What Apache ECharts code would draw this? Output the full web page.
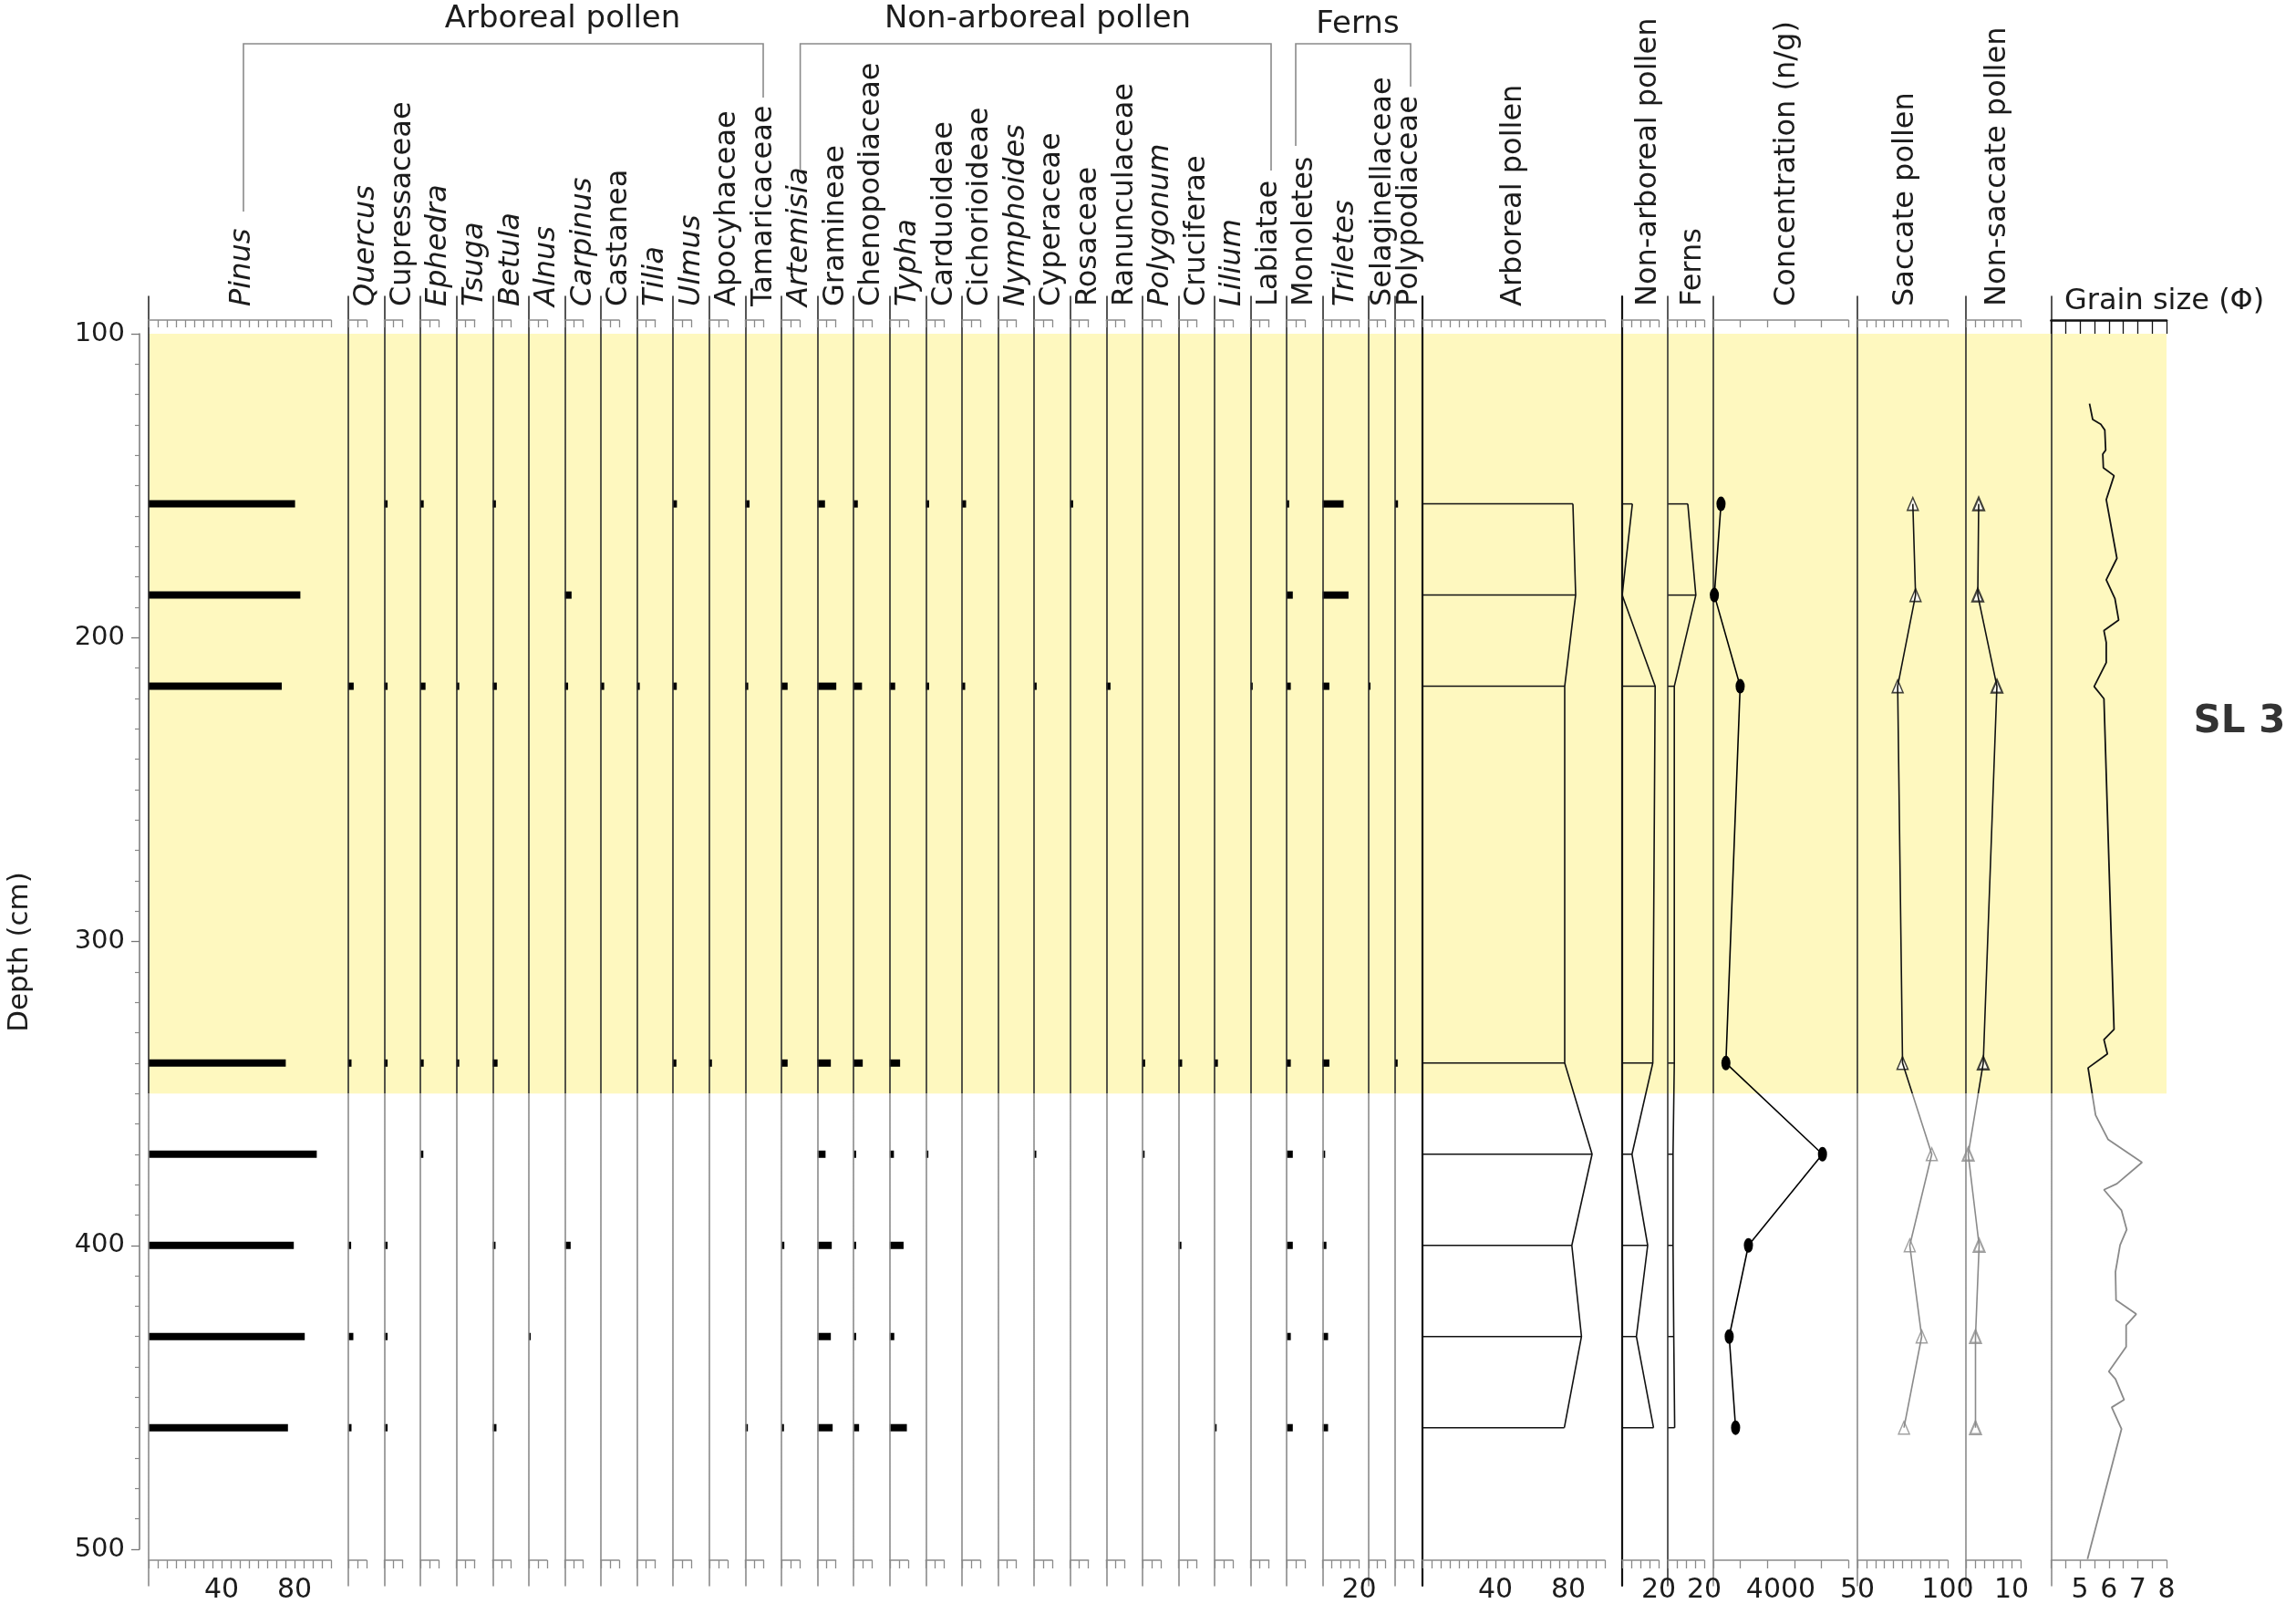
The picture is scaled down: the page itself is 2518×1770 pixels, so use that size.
<!DOCTYPE html>
<html>
<head>
<meta charset="utf-8">
<script src="https://cdn.jsdelivr.net/npm/echarts@6/dist/echarts.min.js"></script>
<style>
  html, body { margin: 0; padding: 0; background: #fff; }
  #main { width: 2518px; height: 1770px; }
</style>
</head>
<body>
<div id="main"></div>
<script>
// sample depths (cm)
const depths = [156, 186, 216, 340, 370, 400, 430, 460];

// pollen percentages, one value per sample depth
const pinus = [80.3, 83.2, 73.0, 75.2, 92.2, 79.6, 85.6, 76.4];
const quercus = [0, 0, 3.0, 1.8, 0, 1.6, 2.8, 1.8];
const cupressaceae = [1.8, 0, 1.8, 1.8, 0, 1.8, 1.8, 1.8];
const ephedra = [1.8, 0, 2.8, 1.8, 1.6, 0, 0, 0];
const tsuga = [0, 0, 1.5, 1.5, 0, 0, 0, 0];
const betula = [1.8, 0, 2.3, 2.7, 0, 1.6, 0, 2.1];
const alnus = [0, 0, 0, 0, 0, 0, 1.1, 0];
const carpinus = [0, 3.7, 1.8, 0, 0, 3.2, 0, 0];
const castanea = [0, 0, 1.8, 0, 0, 0, 0, 0];
const tilia = [0, 0, 1.5, 0, 0, 0, 0, 0];
const ulmus = [2.1, 0, 2.0, 1.8, 0, 0, 0, 0];
const apocyhaceae = [0, 0, 0, 1.5, 0, 0, 0, 0];
const tamaricaceae = [2.3, 0, 1.6, 0, 0, 0, 0, 1.4];
const artemisia = [0, 0, 3.4, 3.4, 0, 1.6, 0, 1.4];
const gramineae = [4.1, 0, 10.3, 7.3, 4.4, 7.8, 7.3, 8.3];
const chenopodiaceae = [2.3, 0, 4.6, 5.0, 1.4, 1.4, 1.4, 3.0];
const typha = [0, 0, 3.0, 5.7, 2.3, 7.6, 2.5, 9.4];
const carduoideae = [1.8, 0, 1.8, 0, 1.4, 0, 0, 0];
const cichorioideae = [2.3, 0, 1.8, 0, 0, 0, 0, 0];
const nymphoides = [0, 0, 0, 0, 0, 0, 0, 0];
const cyperaceae = [0, 0, 1.4, 0, 1.2, 0, 0, 0];
const rosaceae = [1.6, 0, 0, 0, 0, 0, 0, 0];
const ranunculaceae = [0, 0, 2.3, 0, 0, 0, 0, 0];
const polygonum = [0, 0, 0, 1.5, 1.2, 0, 0, 0];
const cruciferae = [0, 0, 0, 2.0, 0, 1.6, 0, 0];
const lilium = [0, 0, 0, 1.8, 0, 0, 0, 1.1];
const labiatae = [0, 0, 1.1, 0, 0, 0, 0, 0];
const monoletes = [1.4, 3.4, 2.3, 2.3, 3.4, 3.4, 2.3, 3.4];
const triletes = [11.5, 14.2, 3.7, 3.7, 1.4, 2.1, 3.0, 3.0];
const selaginellaceae = [0, 0, 0.9, 0, 0, 0, 0, 0];
const polypodiaceae = [1.6, 0, 0, 1.4, 0, 0, 0, 0];

// summary curves
const arborealPollen = [82.5, 84.0, 78.0, 78.0, 93.0, 81.9, 87.2, 77.8];
const nonArborealPollen = [5.6, 0, 18.1, 16.8, 5.4, 14.0, 7.8, 17.2];
const fernsSum = [11.0, 15.4, 3.6, 3.6, 2.9, 2.9, 3.3, 3.8];
const concentration = [455, 60, 1590, 745, 6470, 2080, 940, 1320];
const saccate = [80.7, 82.2, 72.3, 75.0, 91.2, 79.0, 85.6, 75.8];
const nonSaccate = [2.8, 2.6, 6.8, 3.8, 0.5, 2.9, 2.1, 2.1];

// grain size record
const grainDepth = [123.0, 128.2, 129.8, 131.7, 138.3, 139.6, 144.1, 146.7, 154.6, 173.9,
  181.0, 187.1, 194.2, 197.7, 201.6, 208.2, 216.1, 220.1, 328.9, 332.3,
  337.0, 341.6, 357.1, 365.1, 372.7, 379.7, 381.7, 388.5, 394.8, 399.9,
  408.7, 418.0, 422.6, 426.3, 433.4, 441.5, 444.0, 450.8, 453.3, 460.4, 503.2];
const grainSize = [5.33, 5.44, 5.72, 5.86, 5.89, 5.79, 5.81, 6.18, 5.91, 6.28,
  5.91, 6.21, 6.34, 5.83, 5.91, 5.91, 5.49, 5.83, 6.18, 5.83,
  5.95, 5.28, 5.54, 5.97, 7.15, 6.28, 5.83, 6.44, 6.62, 6.39,
  6.23, 6.25, 6.95, 6.6, 6.6, 6.0, 6.23, 6.53, 6.10, 6.44, 5.26];

// zone band (cm)
const zoneBands = [[100, 350]];
const depthTicks = { min: 100, max: 500, step: 100 };

// taxon columns: name, values, italic
const narrowTaxa = [
  ['Quercus', quercus, true], ['Cupressaceae', cupressaceae, false], ['Ephedra', ephedra, true],
  ['Tsuga', tsuga, true], ['Betula', betula, true], ['Alnus', alnus, true],
  ['Carpinus', carpinus, true], ['Castanea', castanea, false], ['Tilia', tilia, true],
  ['Ulmus', ulmus, true], ['Apocyhaceae', apocyhaceae, false], ['Tamaricaceae', tamaricaceae, false],
  ['Artemisia', artemisia, true], ['Gramineae', gramineae, false], ['Chenopodiaceae', chenopodiaceae, false],
  ['Typha', typha, true], ['Carduoideae', carduoideae, false], ['Cichorioideae', cichorioideae, false],
  ['Nymphoides', nymphoides, true], ['Cyperaceae', cyperaceae, false], ['Rosaceae', rosaceae, false],
  ['Ranunculaceae', ranunculaceae, false], ['Polygonum', polygonum, true], ['Cruciferae', cruciferae, false],
  ['Lilium', lilium, true], ['Labiatae', labiatae, false]
];

const FONT = '"DejaVu Sans", sans-serif';
const TXT = '#1c1c1c';
const TOP = 325, HEIGHT = 1414;
const Y_MIN = 100 - 41 / 3.3325, Y_MAX = 100 + 1373 / 3.3325;
const ZONE_END = zoneBands[0][1];

let grids = [], xAxes = [], yAxes = [], series = [], graphics = [];
let sepIdx = [];

function addPanel(o) {
  let gi = grids.length;
  grids.push({ left: o.left, top: TOP, width: o.width, height: HEIGHT });
  let topColor = o.topColor || '#8a8a8a';
  xAxes.push({
    gridIndex: gi, type: 'value', position: 'top', offset: -26, min: o.min, max: o.max,
    interval: o.step, z: 3,
    axisLine: { show: true, onZero: false, lineStyle: { color: topColor, width: o.topWidth || 1.5 } },
    axisTick: { show: true, inside: true, length: o.topTick || 8, lineStyle: { color: topColor, width: 1.3 } },
    axisLabel: { show: false }, splitLine: { show: false }
  });
  xAxes.push({
    gridIndex: gi, type: 'value', position: 'bottom', offset: -28, min: o.min, max: o.max,
    interval: o.step, z: 3,
    axisLine: { show: true, onZero: false, lineStyle: { color: '#8a8a8a', width: 1.5 } },
    axisTick: { show: true, inside: false, length: 9, lineStyle: { color: '#8a8a8a', width: 1.3 } },
    axisLabel: o.labels ? {
      show: true, customValues: o.labels, formatter: v => String(v),
      fontFamily: FONT, fontSize: 30, color: TXT, margin: 18
    } : { show: false },
    splitLine: { show: false }
  });
  if (!o.sepColor) sepIdx.push(yAxes.length);
  yAxes.push({
    gridIndex: gi, type: 'value', inverse: true, min: Y_MIN, max: Y_MAX, z: 3,
    axisLine: { show: true, onZero: false, lineStyle: { color: o.sepColor || '#6f6f6f', width: o.sepWidth || 1.6 } },
    axisTick: { show: false }, axisLabel: { show: false }, splitLine: { show: false }
  });
  if (o.label) {
    graphics.push({
      type: 'text', x: o.left + (o.labelDx || 20), y: 336, rotation: Math.PI / 2,
      style: {
        text: o.label, font: (o.italic ? 'italic ' : '') + '32px ' + FONT, fill: TXT,
        textAlign: 'left', textVerticalAlign: 'middle'
      }
    });
  }
  return { x: xAxes.length - 2, y: yAxes.length - 1 };
}

function pairs(vals) {
  return vals.map((v, i) => [v, depths[i]]);
}

function barSeries(ax, vals) {
  series.push({
    type: 'custom', xAxisIndex: ax.x, yAxisIndex: ax.y, clip: false,
    data: pairs(vals).filter(d => d[0] > 0),
    renderItem: function (params, api) {
      let a = api.coord([0, api.value(1)]);
      let b = api.coord([api.value(0), api.value(1)]);
      return { type: 'rect', shape: { x: a[0], y: a[1] - 4, width: Math.max(b[0] - a[0], 2), height: 8 }, style: { fill: '#000' } };
    }
  });
}

function outlineSeries(ax, vals) {
  series.push({
    type: 'custom', xAxisIndex: ax.x, yAxisIndex: ax.y, clip: false,
    data: pairs(vals),
    renderItem: function (params, api) {
      let a = api.coord([0, api.value(1)]);
      let b = api.coord([api.value(0), api.value(1)]);
      return { type: 'line', shape: { x1: a[0], y1: a[1], x2: b[0], y2: b[1] }, style: { stroke: '#111', lineWidth: 1.5 } };
    }
  });
  series.push({
    type: 'line', xAxisIndex: ax.x, yAxisIndex: ax.y, data: pairs(vals), showSymbol: false,
    silent: true, clip: false, lineStyle: { color: '#111', width: 1.6 }
  });
}

// zone band across all columns
grids.push({ left: 163, top: TOP, width: 2376 - 163, height: HEIGHT });
xAxes.push({ gridIndex: 0, type: 'value', min: 0, max: 1, show: false });
yAxes.push({ gridIndex: 0, type: 'value', inverse: true, min: Y_MIN, max: Y_MAX, show: false });
series.push({
  type: 'custom', xAxisIndex: 0, yAxisIndex: 0, z: 1, clip: false, silent: true,
  data: zoneBands,
  renderItem: function (params, api) {
    let a = api.coord([0, api.value(0)]);
    let b = api.coord([1, api.value(1)]);
    return { type: 'rect', shape: { x: a[0], y: a[1], width: b[0] - a[0], height: b[1] - a[1] }, style: { fill: '#fef8bf' } };
  }
});

// depth axis
grids.push({ left: 153, top: 366, width: 10, height: 1333 });
xAxes.push({ gridIndex: 1, type: 'value', show: false });
yAxes.push({
  gridIndex: 1, type: 'value', inverse: true, min: depthTicks.min, max: depthTicks.max,
  interval: depthTicks.step, z: 3,
  axisLine: { show: true, lineStyle: { color: '#777', width: 1.5 } },
  axisTick: { show: true, length: 9, lineStyle: { color: '#777', width: 1.3 } },
  minorTick: { show: true, splitNumber: 10, length: 5, lineStyle: { color: '#888', width: 1.2 } },
  axisLabel: { fontFamily: FONT, fontSize: 29, color: TXT, margin: 16 },
  splitLine: { show: false }
});

// Pinus
let ax = addPanel({ left: 163, width: 200, min: 0, max: 100, step: 5, labels: [40, 80],
  label: 'Pinus', italic: true, labelDx: 103 });
barSeries(ax, pinus);

// narrow taxa
narrowTaxa.forEach(function (t, i) {
  let a = addPanel({ left: 381.9 + 39.59 * i, width: 20, min: 0, max: 10, step: 5,
    label: t[0], italic: t[2], labelDx: 20 });
  barSeries(a, t[1]);
});

// ferns taxa
ax = addPanel({ left: 1411, width: 20, min: 0, max: 10, step: 5, label: 'Monoletes', labelDx: 20 });
barSeries(ax, monoletes);
ax = addPanel({ left: 1450.5, width: 40, min: 0, max: 20, step: 5, labels: [20],
  label: 'Triletes', italic: true, labelDx: 25 });
barSeries(ax, triletes);
ax = addPanel({ left: 1501, width: 18, min: 0, max: 10, step: 5, label: 'Selaginellaceae', labelDx: 16 });
barSeries(ax, selaginellaceae);
ax = addPanel({ left: 1530, width: 20, min: 0, max: 10, step: 5, label: 'Polypodiaceae', labelDx: 16 });
barSeries(ax, polypodiaceae);

// summary panels
ax = addPanel({ left: 1560, width: 200, min: 0, max: 100, step: 5, labels: [40, 80],
  label: 'Arboreal pollen', labelDx: 100, sepColor: '#111', sepWidth: 2.2 });
outlineSeries(ax, arborealPollen);
ax = addPanel({ left: 1779, width: 40, min: 0, max: 20, step: 5, labels: [20],
  label: 'Non-arboreal pollen', labelDx: 29, sepColor: '#111', sepWidth: 2.2 });
outlineSeries(ax, nonArborealPollen);
ax = addPanel({ left: 1829, width: 40, min: 0, max: 20, step: 5, labels: [20],
  label: 'Ferns', labelDx: 28, sepColor: '#333', sepWidth: 1.6 });
outlineSeries(ax, fernsSum);

ax = addPanel({ left: 1879, width: 148, min: 0, max: 8000, step: 1600, labels: [4000],
  label: 'Concentration (n/g)', labelDx: 81 });
series.push({
  type: 'line', xAxisIndex: ax.x, yAxisIndex: ax.y, data: pairs(concentration),
  symbol: 'circle', symbolSize: [10, 16], showSymbol: true, clip: false,
  itemStyle: { color: '#000' }, lineStyle: { color: '#000', width: 1.6 }
});

let shadeIdx = [];
function triangleSeries(a, vals, bw) {
  shadeIdx.push(series.length);
  series.push({
    type: 'line', xAxisIndex: a.x, yAxisIndex: a.y, data: pairs(vals), showSymbol: false,
    clip: false, lineStyle: { color: '#111', width: 1.6 }
  });
  series.push({
    type: 'scatter', xAxisIndex: a.x, yAxisIndex: a.y, symbol: 'triangle', symbolSize: [12, 14],
    clip: false,
    data: pairs(vals).map(d => ({
      value: d,
      itemStyle: { color: '#fff', borderColor: d[1] < ZONE_END ? '#111' : '#8a8a8a', borderWidth: bw }
    }))
  });
}

ax = addPanel({ left: 2037, width: 99, min: 50, max: 100, step: 5, labels: [50, 100],
  label: 'Saccate pollen', labelDx: 53 });
triangleSeries(ax, saccate, 1.5);
ax = addPanel({ left: 2156, width: 60, min: 0, max: 12, step: 2, labels: [10],
  label: 'Non-saccate pollen', labelDx: 35 });
triangleSeries(ax, nonSaccate, 2.2);

ax = addPanel({ left: 2249.5, width: 126.5, min: 4, max: 8, step: 0.5, labels: [5, 6, 7, 8],
  topColor: '#111', topWidth: 2.6, topTick: 15 });
shadeIdx.push(series.length);
series.push({
  type: 'line', xAxisIndex: ax.x, yAxisIndex: ax.y, showSymbol: false, clip: false,
  data: grainSize.map((v, i) => [v, grainDepth[i]]), lineStyle: { color: '#111', width: 1.8 }
});

// headers, brackets and notes
function headText(text, x, y, size) {
  graphics.push({ type: 'text', x: x, y: y,
    style: { text: text, font: size + 'px ' + FONT, fill: TXT, textAlign: 'center', textVerticalAlign: 'middle' } });
}
function bracket(pts) {
  graphics.push({ type: 'polyline', shape: { points: pts }, style: { stroke: '#8a8a8a', lineWidth: 1.6, fill: null } });
}
headText('Arboreal pollen', 617, 21, 34);
headText('Non-arboreal pollen', 1138, 21, 34);
headText('Ferns', 1489, 27, 34);
bracket([[267, 232], [267, 48], [837, 48], [837, 107]]);
bracket([[877.6, 187], [877.6, 48], [1394, 48], [1394, 187]]);
bracket([[1421, 160], [1421, 48], [1547, 48], [1547, 95]]);
graphics.push({ type: 'text', x: 2264, y: 331,
  style: { text: 'Grain size (Φ)', font: '32px ' + FONT, fill: TXT, textAlign: 'left', textVerticalAlign: 'middle' } });
graphics.push({ type: 'text', x: 2456, y: 792,
  style: { text: 'SL 3', font: 'bold 42px ' + FONT, fill: '#333', textAlign: 'center', textVerticalAlign: 'middle' } });
graphics.push({ type: 'text', x: 22, y: 1044, rotation: Math.PI / 2,
  style: { text: 'Depth (cm)', font: '31px ' + FONT, fill: TXT, textAlign: 'center', textVerticalAlign: 'middle' } });

let chart = echarts.init(document.getElementById('main'));
let option = {
  backgroundColor: '#fff',
  animation: false,
  grid: grids,
  xAxis: xAxes,
  yAxis: yAxes,
  graphic: graphics,
  series: series
};
chart.setOption(option);

// lines turn grey below the zone band
let yZone = chart.convertToPixel({ gridIndex: 0 }, [0, ZONE_END])[1];
let H = chart.getHeight();
function split(upper, lower) {
  return {
    type: 'linear', x: 0, y: 0, x2: 0, y2: H, global: true,
    colorStops: [
      { offset: 0, color: upper }, { offset: yZone / H, color: upper },
      { offset: yZone / H, color: lower }, { offset: 1, color: lower }
    ]
  };
}
chart.setOption({
  yAxis: yAxes.map((y, i) => sepIdx.indexOf(i) >= 0 ? { axisLine: { lineStyle: { color: split('#2a2a2a', '#8a8a8a') } } } : {}),
  series: series.map((s, i) => shadeIdx.indexOf(i) >= 0 ? { lineStyle: { color: split('#111', '#8a8a8a') } } : {})
});
window.addEventListener('resize', function () { chart.resize(); });
</script>
</body>
</html>
